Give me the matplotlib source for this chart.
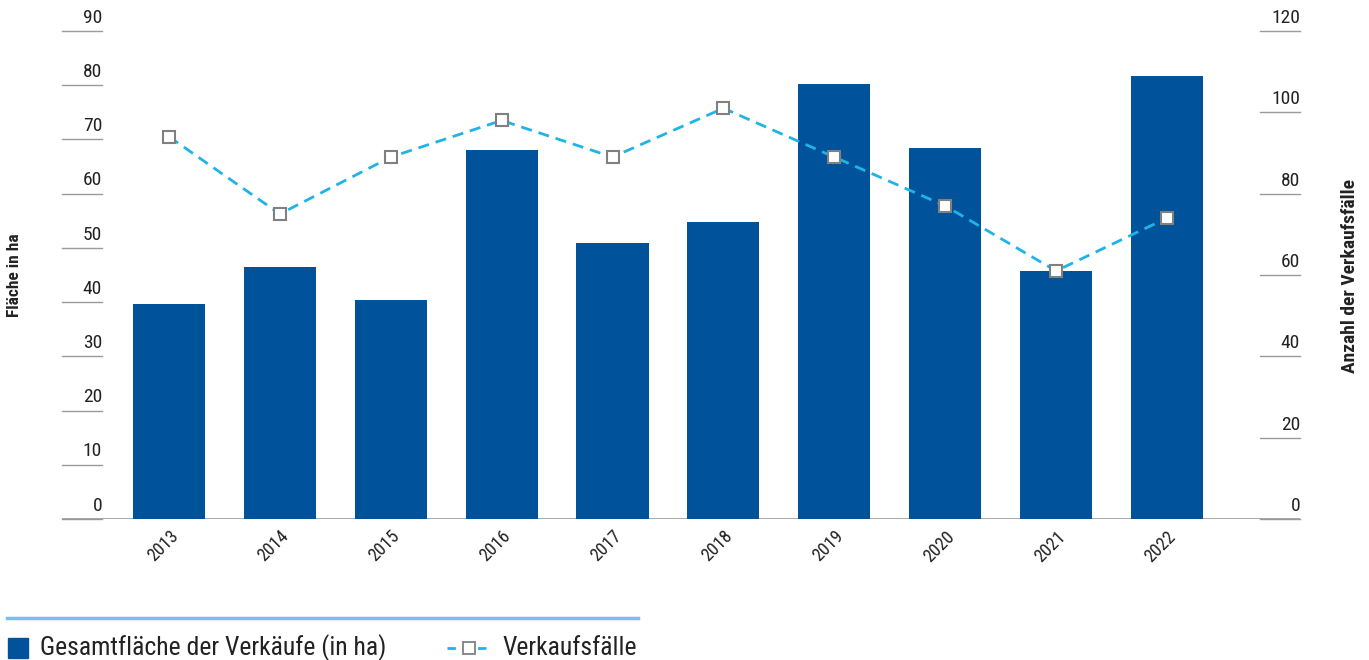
import numpy as np
import matplotlib.pyplot as plt
from matplotlib import font_manager
from matplotlib.lines import Line2D

# pick a narrow face if one is installed
font = 'Roboto'
for name in ['Roboto Condensed', 'Liberation Sans Narrow', 'Open Sans Condensed']:
    try:
        font_manager.findfont(name, fallback_to_default=False)
        font = name
        break
    except Exception:
        pass
plt.rcParams['font.family'] = [font, 'DejaVu Sans']

# Data
years = ['2013', '2014', '2015', '2016', '2017', '2018', '2019', '2020', '2021', '2022']
area_ha = [39.7, 46.5, 40.4, 68.1, 50.9, 54.8, 80.3, 68.5, 45.8, 81.7]
sales = [94, 75, 89, 98, 89, 101, 89, 77, 61, 74]
left_ticks = [0, 10, 20, 30, 40, 50, 60, 70, 80, 90]
right_ticks = [0, 20, 40, 60, 80, 100, 120]

bar_color = '#00529b'
line_color = '#1eb4e6'
tick_color = '#9a9a9a'
text_color = '#222222'

W, H = 1369, 660
fig = plt.figure(figsize=(W / 100, H / 100), dpi=100)
ax = fig.add_axes([62 / W, 1 - 519 / H, (1300 - 62) / W, (519 - 31) / H])
ax2 = ax.twinx()

x = np.arange(len(years))
ax.bar(x, area_ha, width=0.65, color=bar_color, zorder=2)
ax.set_xlim(-0.965, 10.2)
ax.set_ylim(0, 90)
ax2.set_ylim(0, 120)

ax2.plot(x, sales, color=line_color, lw=2, dashes=(4, 2.5),
         marker='s', ms=9, mfc='white', mec='#808080', mew=1.5, zorder=3)

for a in (ax, ax2):
    for s in a.spines.values():
        s.set_visible(False)
    a.set_yticks([])
    a.tick_params(length=0)

# baseline
ax.axhline(0, color=tick_color, lw=1.2, zorder=1)

# short tick lines with values sitting on top of them
tw = 40 / (1300 - 62)
for v in left_ticks:
    ax.plot([0, tw], [v, v], transform=ax.get_yaxis_transform(),
            color=tick_color, lw=1, clip_on=False)
    ax.text(tw, v + 0.8, str(v), transform=ax.get_yaxis_transform(),
            ha='right', va='bottom', fontsize=14, color=text_color)
for v in right_ticks:
    ax2.plot([1 - tw, 1], [v, v], transform=ax2.get_yaxis_transform(),
             color=tick_color, lw=1, clip_on=False)
    ax2.text(1, v + 1.0, str(v), transform=ax2.get_yaxis_transform(),
             ha='right', va='bottom', fontsize=14, color=text_color)

ax.set_xticks(x)
ax.set_xticklabels(years, rotation=45, ha='right', rotation_mode='anchor',
                   fontsize=13, color=text_color)
ax.tick_params(axis='x', pad=6)

fig.text(15 / W, 1 - 275 / H, 'Fläche in ha', rotation=90, ha='center',
         va='center', fontsize=12.5, fontweight='bold', color=text_color)
fig.text(1350 / W, 1 - 276 / H, 'Anzahl der Verkaufsfälle', rotation=90,
         ha='center', va='center', fontsize=14, fontweight='bold', color=text_color)

# legend with rule above it
fig.add_artist(Line2D([7 / W, 638 / W], [1 - 618 / H, 1 - 618 / H],
                      color='#7cbfe6', lw=2.5))
fig.add_artist(Line2D([18 / W], [1 - 648 / H], marker='s', ms=15,
                      color=bar_color, lw=0))
fig.text(40 / W, 1 - 648 / H, 'Gesamtfläche der Verkäufe (in ha)', ha='left',
         va='center', fontsize=18.5, color=text_color)
fig.add_artist(Line2D([447 / W, 490 / W], [1 - 648 / H, 1 - 648 / H],
                      color=line_color, lw=2, dashes=(3, 2.5)))
fig.add_artist(Line2D([468.5 / W], [1 - 648 / H], color=line_color, lw=0,
                      marker='s', ms=9, mfc='white', mec='#808080', mew=1.3))
fig.text(502 / W, 1 - 648 / H, 'Verkaufsfälle', ha='left', va='center',
         fontsize=18.5, color=text_color)

fig.savefig('out.png', dpi=100)
